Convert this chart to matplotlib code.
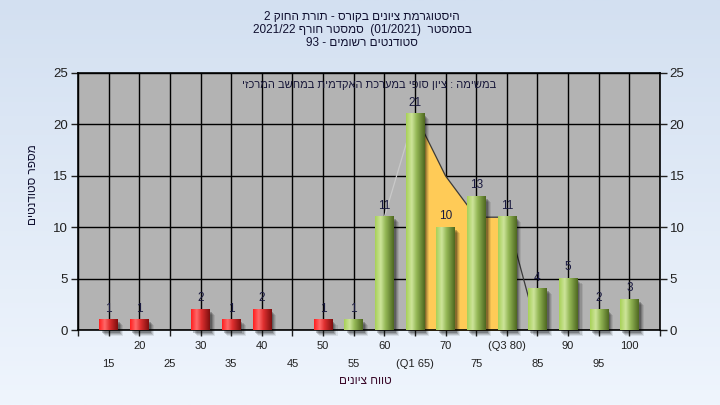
import re
import numpy as np
import matplotlib
matplotlib.use("Agg")
import matplotlib.pyplot as plt
from matplotlib.colors import LinearSegmentedColormap
from matplotlib.patches import Rectangle

plt.rcParams['font.family'] = ['Liberation Sans', 'DejaVu Sans']

# נתונים
grades = [15, 20, 25, 30, 35, 40, 45, 50, 55, 60, 65, 70, 75, 80, 85, 90, 95, 100]
counts = [1, 1, 0, 2, 1, 2, 0, 1, 1, 11, 21, 10, 13, 11, 4, 5, 2, 3]
pass_grade = 55

row1_ticks = [20, 30, 40, 50, 60, 70, 80, 90, 100]
row1_labels = ["20", "30", "40", "50", "60", "70", "(Q3 80)", "90", "100"]
row2_ticks = [15, 25, 35, 45, 55, 65, 75, 85, 95]
row2_labels = ["15", "25", "35", "45", "55", "(Q1 65)", "75", "85", "95"]

# קו התפלגות (אזור רבעונים)
curve_x = [60, 65, 70, 75, 80, 85]
curve_y = [11, 21, 15, 11, 11, 0]
q1, q3 = 65, 80

title_lines = ["היסטוגרמת ציונים בקורס - תורת החוק 2",
               "בסמסטר  (01/2021)  סמסטר חורף 2021/22",
               "סטודנטים רשומים - 93"]
note = "במשימה : ציון סופי במערכת האקדמית במחשב המרכזי"
xlabel = "טווח ציונים"
ylabel = "מספר סטודנטים"


def rtl(s):
    # סדר ויזואלי פשוט לעברית
    r = s[::-1].translate(str.maketrans('()', ')('))
    return re.sub(r'[0-9A-Za-z/.]+', lambda m: m.group(0)[::-1], r)


fig = plt.figure(figsize=(7.2, 4.05), dpi=100)

# רקע מדורג
bg = fig.add_axes([0, 0, 1, 1], zorder=-10)
bg.imshow(np.linspace(0, 1, 256).reshape(-1, 1),
          cmap=LinearSegmentedColormap.from_list("bg", ["#D3E0F1", "#EFF5FD"]),
          aspect='auto', extent=[0, 1, 0, 1])
bg.axis('off')

ax = fig.add_axes([0.1083, 0.184, 0.8084, 0.6358])
ax.set_facecolor("#B3B3B3")

red_cmap = LinearSegmentedColormap.from_list(
    "red", [(0, "#FF1E1E"), (0.3, "#FF6A6A"), (0.55, "#E03030"), (1, "#7E0E0E")])
green_cmap = LinearSegmentedColormap.from_list(
    "green", [(0, "#A8D158"), (0.3, "#CDE49A"), (0.55, "#96B957"), (1, "#4E6820")])
grad = np.linspace(0, 1, 64).reshape(1, -1)

width = 3.0

# אזור צהוב בין הרבעונים
xs = np.array(curve_x, dtype=float)
ys = np.array(curve_y, dtype=float)
fx = np.linspace(q1, q3, 100)
ax.fill_between(fx, 0, np.interp(fx, xs, ys), color="#FFCB57", zorder=1, lw=0)
ax.plot(xs[:2], ys[:2], color="#C9C9C9", lw=0.9, zorder=1.5)
ax.plot(xs[1:], ys[1:], color="#3A3A3A", lw=0.9, zorder=1.5)

for g, c in zip(grades, counts):
    if c == 0:
        continue
    x0 = g - width / 2
    # צל
    for k, a in enumerate([0.22, 0.16, 0.12, 0.08]):
        ax.add_patch(Rectangle((x0 + 0.35 + k * 0.17, -0.2 - k * 0.1),
                               width, c, color="black", alpha=a, lw=0,
                               zorder=2, clip_on=False))
    cmap = red_cmap if g < pass_grade else green_cmap
    ax.imshow(grad, cmap=cmap, aspect='auto', extent=[x0, x0 + width, 0, c],
              zorder=3, interpolation='bilinear')
    ax.text(g, c + 0.55, str(c), ha='center', va='bottom', fontsize=8.5,
            color="#1A1A40", zorder=4)

ax.set_xlim(10, 105)
ax.set_ylim(0, 25)

ax.set_xticks([10] + row1_ticks)
ax.set_xticklabels([""] + row1_labels)
ax.set_xticks(row2_ticks + [105], minor=True)
ax.set_xticklabels(row2_labels + [""], minor=True)
ax.tick_params(axis='x', which='major', length=4, width=1, pad=3.5,
               labelsize=8, colors="#202020")
ax.tick_params(axis='x', which='minor', length=4, width=1, pad=16.5,
               labelsize=8, colors="#202020")
ax.set_yticks([0, 5, 10, 15, 20, 25])
ax.tick_params(axis='y', length=5, width=1, pad=2, labelsize=9.5,
               colors="#202020", right=True, labelright=True)

ax.grid(True, which='both', color="black", lw=1, zorder=0.5)
ax.set_axisbelow(True)
for sp in ax.spines.values():
    sp.set_color("black")
    sp.set_linewidth(1.2)

ax.text(0.5, 0.953, rtl(note), transform=ax.transAxes, ha='center', va='center',
        fontsize=8, color="#18183A", zorder=5)

for i, line in enumerate(title_lines):
    fig.text(0.503, 1 - (17 + 12.8 * i) / 405, rtl(line), ha='center',
             va='center', fontsize=8.5, color="#101030")

fig.text(0.507, 1 - 381 / 405, rtl(xlabel), ha='center', va='center',
         fontsize=8.5, color="#3A0A2A")
fig.text(33 / 720, 1 - 185 / 405, rtl(ylabel), ha='center', va='center',
         rotation=90, fontsize=8.5, color="#101030")

fig.savefig("out.png", dpi=100)
